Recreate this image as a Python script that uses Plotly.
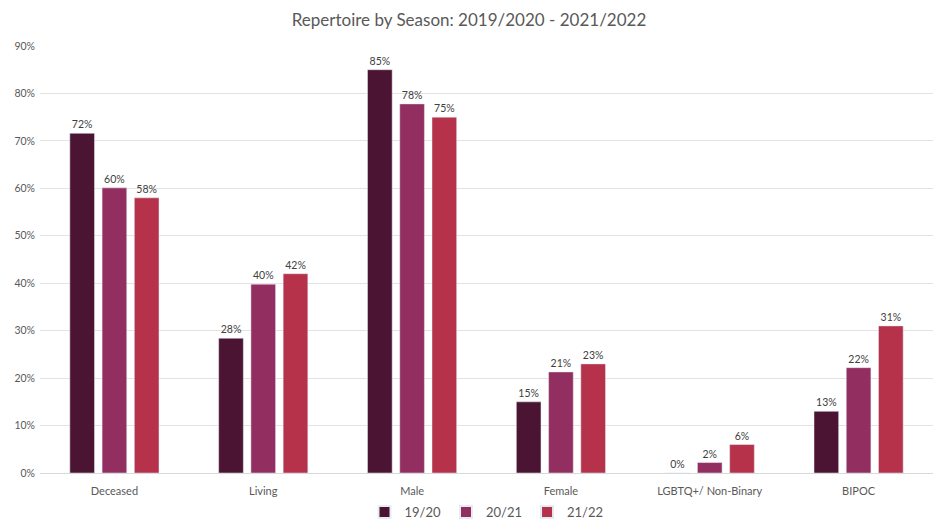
import plotly.graph_objects as go

categories = ["Deceased", "Living", "Male", "Female", "LGBTQ+/ Non-Binary", "BIPOC"]
s1920 = [71.6, 28.4, 85.0, 15.0, 0.0, 13.0]
s2021 = [60.1, 39.8, 77.8, 21.3, 2.2, 22.2]
s2122 = [58.0, 42.0, 75.0, 23.0, 6.0, 31.0]
series_names = ["19/20", "20/21", "21/22"]
colors = ["#4c1433", "#922f60", "#b5324a"]

fig = go.Figure()
for name, vals, col in zip(series_names, [s1920, s2021, s2122], colors):
    fig.add_trace(go.Bar(
        x=categories, y=vals, name=name, marker_color=col,
        text=[f"{round(v):.0f}%" for v in vals], textposition="outside",
        textfont=dict(size=10.5, color="#404040"), cliponaxis=False,
    ))

fig.update_layout(
    width=938, height=521,
    font=dict(family="Lato, sans-serif", color="#595959"),
    title=dict(text="Repertoire by Season: 2019/2020 - 2021/2022", x=0.5, xanchor="center",
               y=0.962, yanchor="middle", font=dict(size=17, color="#595959")),
    barmode="group", bargap=0.35, bargroupgap=0.235,
    plot_bgcolor="white", paper_bgcolor="white",
    margin=dict(l=40, r=5, t=46, b=48, autoexpand=False),
    legend=dict(orientation="h", x=0.5, xanchor="center", yref="container", y=0.017,
                yanchor="middle", font=dict(size=13, color="#595959"), traceorder="normal",
                itemwidth=30, itemsizing="constant"),
    xaxis=dict(showline=True, linecolor="#d9d9d9", tickfont=dict(size=11, color="#595959"),
               ticks="", ticklabelstandoff=8),
    yaxis=dict(range=[0, 90], dtick=10, ticksuffix="%", showgrid=True, gridcolor="#e3e3e3",
               zeroline=False, tickfont=dict(size=10.5, color="#595959"), ticklabelstandoff=4),
)
fig.write_html("out.html")
